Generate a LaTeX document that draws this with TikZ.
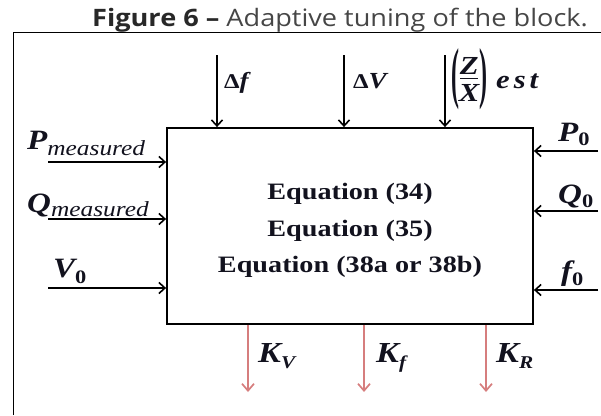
\documentclass[tikz,border=0pt]{standalone}
\usepackage{fontspec}
\setmainfont{Liberation Serif}
\newfontfamily\titlefont[FakeStretch=1.13]{Open Sans}
\newfontfamily\eqfont[FakeStretch=1.2]{Liberation Serif}
\newfontfamily\labfont[FakeStretch=1.18]{Liberation Serif}
\usetikzlibrary{arrows.meta}
\newcommand\mylabbig{\labfont\bfseries\itshape\fontsize{28}{28}\selectfont}
\newcommand\mylabsub{\labfont\mdseries\itshape\fontsize{21.5}{21.5}\selectfont}
\newcommand\mylabzero{\labfont\bfseries\upshape\fontsize{19}{19}\selectfont}
\newcommand\mylabmid{\labfont\bfseries\itshape\fontsize{23}{23}\selectfont}
\newcommand\mylabest{\labfont\bfseries\itshape\fontsize{26}{26}\selectfont}
\newcommand\mylabfrac{\labfont\bfseries\itshape\fontsize{26}{26}\selectfont}
\newcommand\mylabparen{\labfont\bfseries\upshape\fontsize{24}{24}\selectfont}
\newcommand\mylabdelta{\labfont\bfseries\upshape\fontsize{21}{21}\selectfont}
\newcommand\mylabk{\labfont\bfseries\itshape\fontsize{29}{29}\selectfont}
\newcommand\mylabksub{\labfont\bfseries\itshape\fontsize{18}{18}\selectfont}
\definecolor{inkc}{RGB}{18,18,30}
\definecolor{pinkc}{RGB}{214,126,126}
\definecolor{titlec}{RGB}{40,40,40}
\definecolor{titlec2}{RGB}{70,70,70}
\tikzset{
  arr/.style={-{Straight Barb[length=6pt,width=11pt]}, line width=1.6pt, draw=black},
  parr/.style={-{Straight Barb[length=7pt,width=12pt]}, line width=1.7pt, draw=pinkc},
  lab/.style={anchor=base west, inner sep=0pt, text=inkc},
  eqline/.style={anchor=base, inner sep=0pt, text=inkc, font=\eqfont\bfseries\fontsize{23.5}{23.5}\selectfont}
}
\begin{document}
\begin{tikzpicture}[x=1pt,y=-1pt]
\useasboundingbox (0,0) rectangle (601,415);
% title
\node[anchor=base, inner sep=0pt, text=titlec] (title) at (340,26)
  {\titlefont\fontsize{24}{24}\selectfont\bfseries Figure 6 –\mdseries\color{titlec2}\ Adaptive tuning of the block.};
% frame
\coordinate (fa) at (13.5,415);
\coordinate (fb) at (13.5,32.5);
\coordinate (fc) at (601,32.5);
\draw[line width=1.2pt] (fa) -- (fb) -- (fc);
% block
\node[draw, line width=1.8pt, minimum width=366pt, minimum height=196pt, inner sep=0pt] (blk) at (350,226) {};
\node[eqline] (eq1) at (350,199.5) {Equation (34)};
\node[eqline] (eq2) at (350,236) {Equation (35)};
\node[eqline] (eq3) at (350,272.5) {Equation (38a or 38b)};
% top inputs
\coordinate (t1) at (217,55);
\coordinate (t2) at (344,55);
\coordinate (t3) at (445,55);
\draw[arr] (t1) -- (t1 |- blk.north);
\draw[arr] (t2) -- (t2 |- blk.north);
\draw[arr] (t3) -- (t3 |- blk.north);
\node[lab] (ldf) at (224,88) {\mylabdelta Δ\mylabmid f};
\node[lab] (ldv) at (353,88) {\mylabdelta Δ\mylabmid V};
\node[anchor=west, inner sep=0pt, text=inkc] (lzx) at (451,79)
  {$\vcenter{\hbox{\resizebox{8pt}{47pt}{\mylabparen (}}}
    \kern1pt
    \vcenter{\hbox to 18pt{\hss\mylabfrac Z\hss}\kern3.5pt\hrule height 1.5pt\kern5pt\hbox to 18pt{\hss\mylabfrac X\hss}}
    \kern1pt
    \vcenter{\hbox{\resizebox{8pt}{47pt}{\mylabparen )}}}$};
\node[lab] (lest) at (496,88) {\mylabest e\kern4pt s\kern4pt t};
% left inputs
\coordinate (l1) at (48,162);
\coordinate (l2) at (48,219);
\coordinate (l3) at (48,288);
\draw[arr] (l1) -- (l1 -| blk.west);
\draw[arr] (l2) -- (l2 -| blk.west);
\draw[arr] (l3) -- (l3 -| blk.west);
\node[lab] (lpm) at (27,149) {\mylabbig P\raisebox{-6pt}{\mylabsub measured}};
\node[lab] (lqm) at (27,212) {\mylabbig Q\raisebox{-4pt}{\mylabsub measured}};
\node[lab] (lv0) at (53,277) {\mylabbig V\raisebox{-6pt}{\mylabzero 0}};
% right inputs
\coordinate (r1) at (598,151);
\coordinate (r2) at (598,211);
\coordinate (r3) at (598,290);
\draw[arr] (r1) -- (r1 -| blk.east);
\draw[arr] (r2) -- (r2 -| blk.east);
\draw[arr] (r3) -- (r3 -| blk.east);
\node[lab] (lp0) at (558,141) {\mylabbig P\raisebox{-4pt}{\mylabzero 0}};
\node[lab] (lq0) at (558,203) {\mylabbig Q\raisebox{-4pt}{\mylabzero 0}};
\node[lab] (lf0) at (561,280) {\mylabbig f\raisebox{-5pt}{\mylabzero 0}};
% outputs
\coordinate (b1) at (248,392);
\coordinate (b2) at (364,392);
\coordinate (b3) at (486,392);
\draw[parr] (b1 |- blk.south) -- (b1);
\draw[parr] (b2 |- blk.south) -- (b2);
\draw[parr] (b3 |- blk.south) -- (b3);
\node[lab] (kv) at (258,362) {\mylabk K\raisebox{-6pt}{\mylabksub V}};
\node[lab] (kf) at (376,362) {\mylabk K\raisebox{-6pt}{\mylabksub f}};
\node[lab] (kr) at (496,362) {\mylabk K\raisebox{-6pt}{\mylabksub R}};
\end{tikzpicture}
\end{document}
